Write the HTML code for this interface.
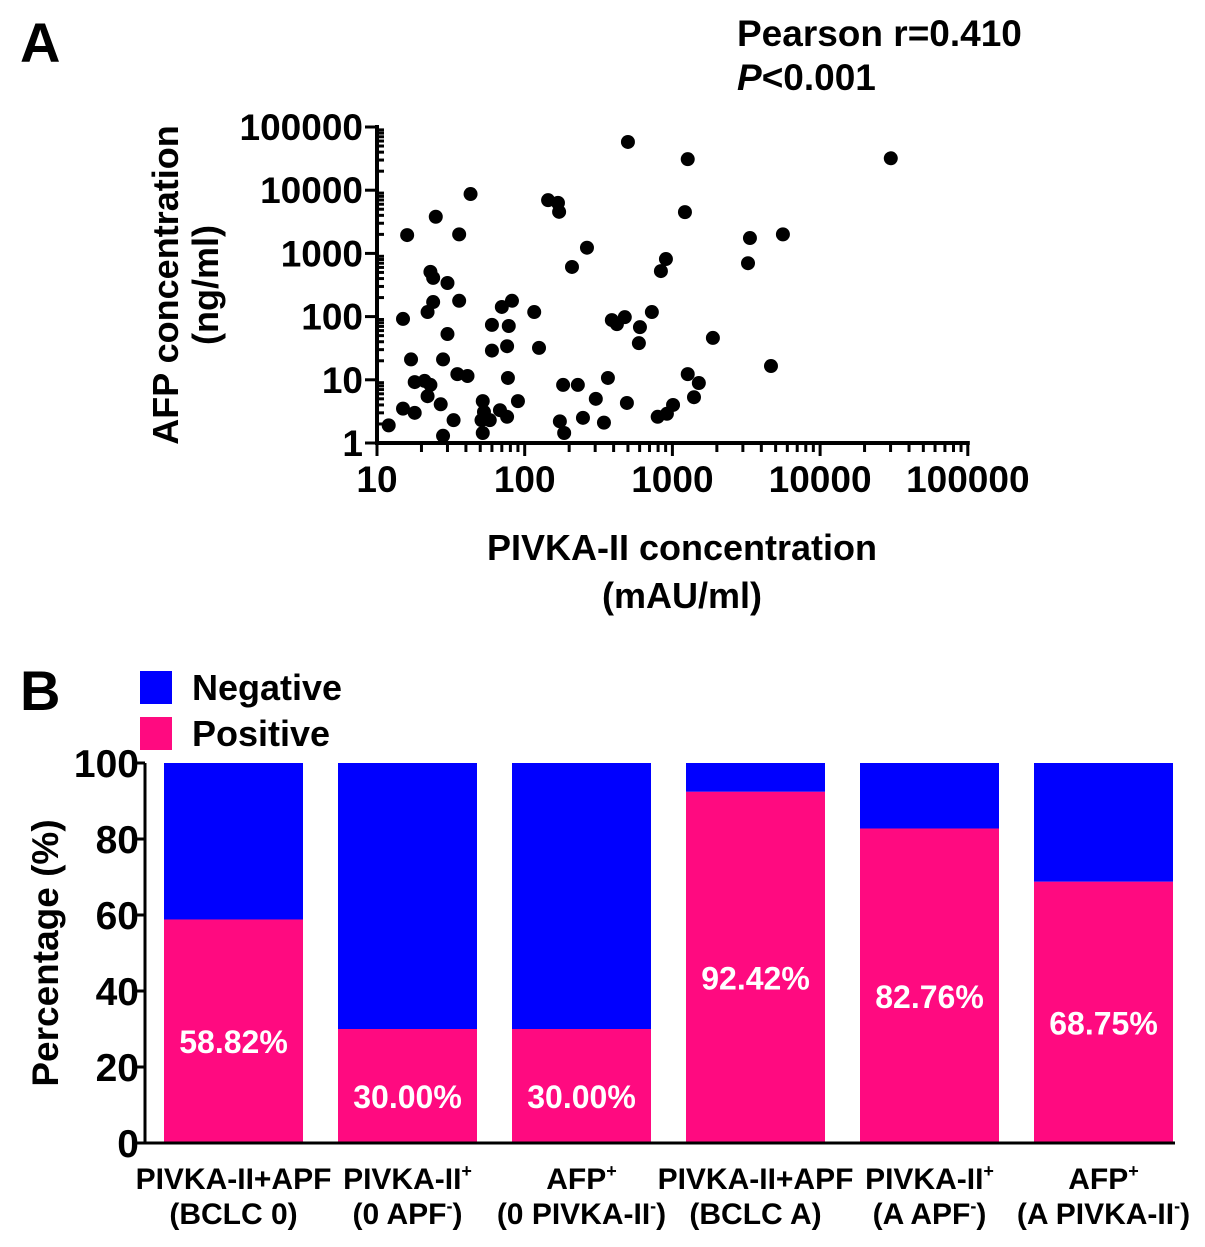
<!DOCTYPE html>
<html><head><meta charset="utf-8"><style>
html,body{margin:0;padding:0;background:#fff;}
svg{display:block;font-family:"Liberation Sans",Arial,sans-serif;font-weight:bold;}
</style></head><body>
<svg id="fig" width="1205" height="1247" viewBox="0 0 1205 1247" xmlns="http://www.w3.org/2000/svg">
<text x="20" y="62" font-size="56">A</text>
<text x="737" y="46" font-size="37">Pearson r=0.410</text>
<text x="737" y="90" font-size="37"><tspan font-style="italic">P</tspan>&lt;0.001</text>
<g id="scatter"></g>
<text transform="translate(178,285) rotate(-90)" text-anchor="middle" font-size="36">AFP concentration</text>
<text transform="translate(218,285) rotate(-90)" text-anchor="middle" font-size="36">(ng/ml)</text>
<text x="682" y="560" text-anchor="middle" font-size="36">PIVKA-II concentration</text>
<text x="682" y="608" text-anchor="middle" font-size="36">(mAU/ml)</text>

<text x="20" y="710" font-size="56">B</text>
<rect x="140" y="671" width="32" height="33" fill="#0000ff"/>
<text x="192" y="700" font-size="36">Negative</text>
<rect x="140" y="717" width="32" height="33" fill="#ff0a80"/>
<text x="192" y="746" font-size="36">Positive</text>
<g id="bars"></g>
<text transform="translate(58,953) rotate(-90)" text-anchor="middle" font-size="37">Percentage (%)</text>
</svg>
<script>
// ---- Panel A data ----
const pivka = [12,15,18,16,15,17,18,21,23,22,27,28,33,22,24,23,24,25,30,30,28,36,36,35,41,43,52,53,51,58,52,68,76,90,77,76,78,60,60,70,82,116,125,144,168,171,209,264,182,229,173,185,248,303,344,366,389,421,476,492,500,603,593,726,836,904,795,918,1010,1270,1216,3350,3250,5600,1880,1270,1510,1400,4650,30100];
const afp = [1.9,3.5,3.0,1950,92,21,9.2,9.6,8.3,5.5,4.1,1.3,2.3,118,170,510,410,3800,340,53,21,2000,178,12.3,11.5,8700,4.6,3.1,2.3,2.3,1.44,3.3,2.6,4.6,10.7,34,71,74,29,142,178,118,32,6950,6300,4550,610,1230,8.3,8.3,2.2,1.44,2.5,5.0,2.1,10.7,88,76,98,4.3,58000,68,38,118,525,815,2.6,2.9,4.0,31000,4500,1750,700,2000,46,12.3,8.9,5.3,16.5,32000];
const xTickLabels = ["10","100","1000","10000","100000"];
const yTickLabels = ["1","10","100","1000","10000","100000"];
// ---- Panel B data ----
const categoriesL1 = ["PIVKA-II+APF","PIVKA-II<sup>+</sup>","AFP<sup>+</sup>","PIVKA-II+APF","PIVKA-II<sup>+</sup>","AFP<sup>+</sup>"];
const categoriesL2 = ["(BCLC 0)","(0 APF<sup>-</sup>)","(0 PIVKA-II<sup>-</sup>)","(BCLC A)","(A APF<sup>-</sup>)","(A PIVKA-II<sup>-</sup>)"];
const positive = [58.82,30.00,30.00,92.42,82.76,68.75];
const percentTicks = [0,20,40,60,80,100];

const NS="http://www.w3.org/2000/svg";
function mk(tag,attrs,parent){const e=document.createElementNS(NS,tag);for(const k in attrs)e.setAttribute(k,attrs[k]);parent.appendChild(e);return e;}
function richText(parent,x,y,str,size){
  const t=mk('text',{x:x,y:y,'text-anchor':'middle','font-size':size},parent);
  const parts=str.split(/(<sup>.*?<\/sup>)/);
  parts.forEach(p=>{if(!p)return;
    if(p.startsWith('<sup>')){const s=mk('tspan',{dy:-12,'font-size':size*0.6},t);s.textContent=p.replace(/<\/?sup>/g,'');const r=mk('tspan',{dy:12},t);r.textContent='\u200b';}
    else{const s=mk('tspan',{},t);s.textContent=p;}
  });
  return t;
}
// Panel A
const sc=document.getElementById('scatter');
const ax0=377, axDec=147.7, ay0=443, ayDec=63.2;
const xs=v=>ax0+(Math.log10(v)-1)*axDec;
const ys=v=>ay0-Math.log10(v)*ayDec;
let l=mk('line',{x1:ax0,y1:ay0,x2:xs(100000)+2,y2:ay0,stroke:'#000','stroke-width':4},sc);


l=mk('line',{x1:ax0,y1:ay0+2,x2:ax0,y2:ys(100000)-2,stroke:'#000','stroke-width':4},sc);


for(let d=1;d<=5;d++){for(let m=1;m<=9;m++){
  if(d===5&&m>1)break;
  const v=Math.pow(10,d)*m;
  const x=xs(v); const major=m===1;
  mk('line',{x1:x,y1:ay0,x2:x,y2:ay0+(major?13:9),stroke:'#000','stroke-width':3},sc);
}}
for(let d=0;d<=5;d++){for(let m=1;m<=9;m++){
  if(d===5&&m>1)break;
  const v=Math.pow(10,d)*m; const y=ys(v);
  mk('line',{x1:ax0,y1:y,x2:ax0-(m===1?12:0),y2:y,stroke:'#000','stroke-width':3},sc);
  if(m>1) mk('line',{x1:ax0,y1:y,x2:ax0+7,y2:y,stroke:'#000','stroke-width':3},sc);
}}
xTickLabels.forEach((s,i)=>{const t=mk('text',{x:xs(Number(s)),y:492,'text-anchor':'middle','font-size':37},sc);t.textContent=s;

});
yTickLabels.forEach((s,i)=>{const t=mk('text',{x:363,y:ys(Number(s))+13,'text-anchor':'end','font-size':37},sc);t.textContent=s;

});
pivka.forEach((p,i)=>{const c=mk('circle',{cx:xs(p),cy:ys(afp[i]),r:7,fill:'#000'},sc);

});
// Panel B
const bg=document.getElementById('bars');
const bx0=145, by0=1143, bScale=3.8, bw=139, bStart=164, bStep=174;
const yb=v=>by0-v*bScale;
positive.forEach((v,i)=>{
  const x=bStart+i*bStep;
  let r=mk('rect',{x:x,y:yb(100),width:bw,height:yb(v)-yb(100),fill:'#0000ff'},bg);
  
  
  r=mk('rect',{x:x,y:yb(v),width:bw,height:by0-yb(v),fill:'#ff0a80'},bg);
  
  
  const t=mk('text',{x:x+bw/2,y:(yb(v)+by0)/2+22,'text-anchor':'middle','font-size':32,fill:'#fff'},bg);
  t.textContent=v.toFixed(2)+'%';
  
  
  const c1=richText(bg,x+bw/2,1189,categoriesL1[i],30);
  
  
  const c2=richText(bg,x+bw/2,1224,categoriesL2[i],30);
  
  
});
l=mk('line',{x1:bx0,y1:yb(100),x2:bx0,y2:by0+1,stroke:'#000','stroke-width':3},bg);


l=mk('line',{x1:bx0-1,y1:by0,x2:1175,y2:by0,stroke:'#000','stroke-width':3},bg);


percentTicks.forEach(v=>{
  mk('line',{x1:bx0-8,y1:yb(v),x2:bx0,y2:yb(v),stroke:'#000','stroke-width':3},bg);
  const t=mk('text',{x:bx0-6,y:yb(v)+14,'text-anchor':'end','font-size':39},bg);
  t.textContent=String(v);
  
  
});
</script>
</body></html>
